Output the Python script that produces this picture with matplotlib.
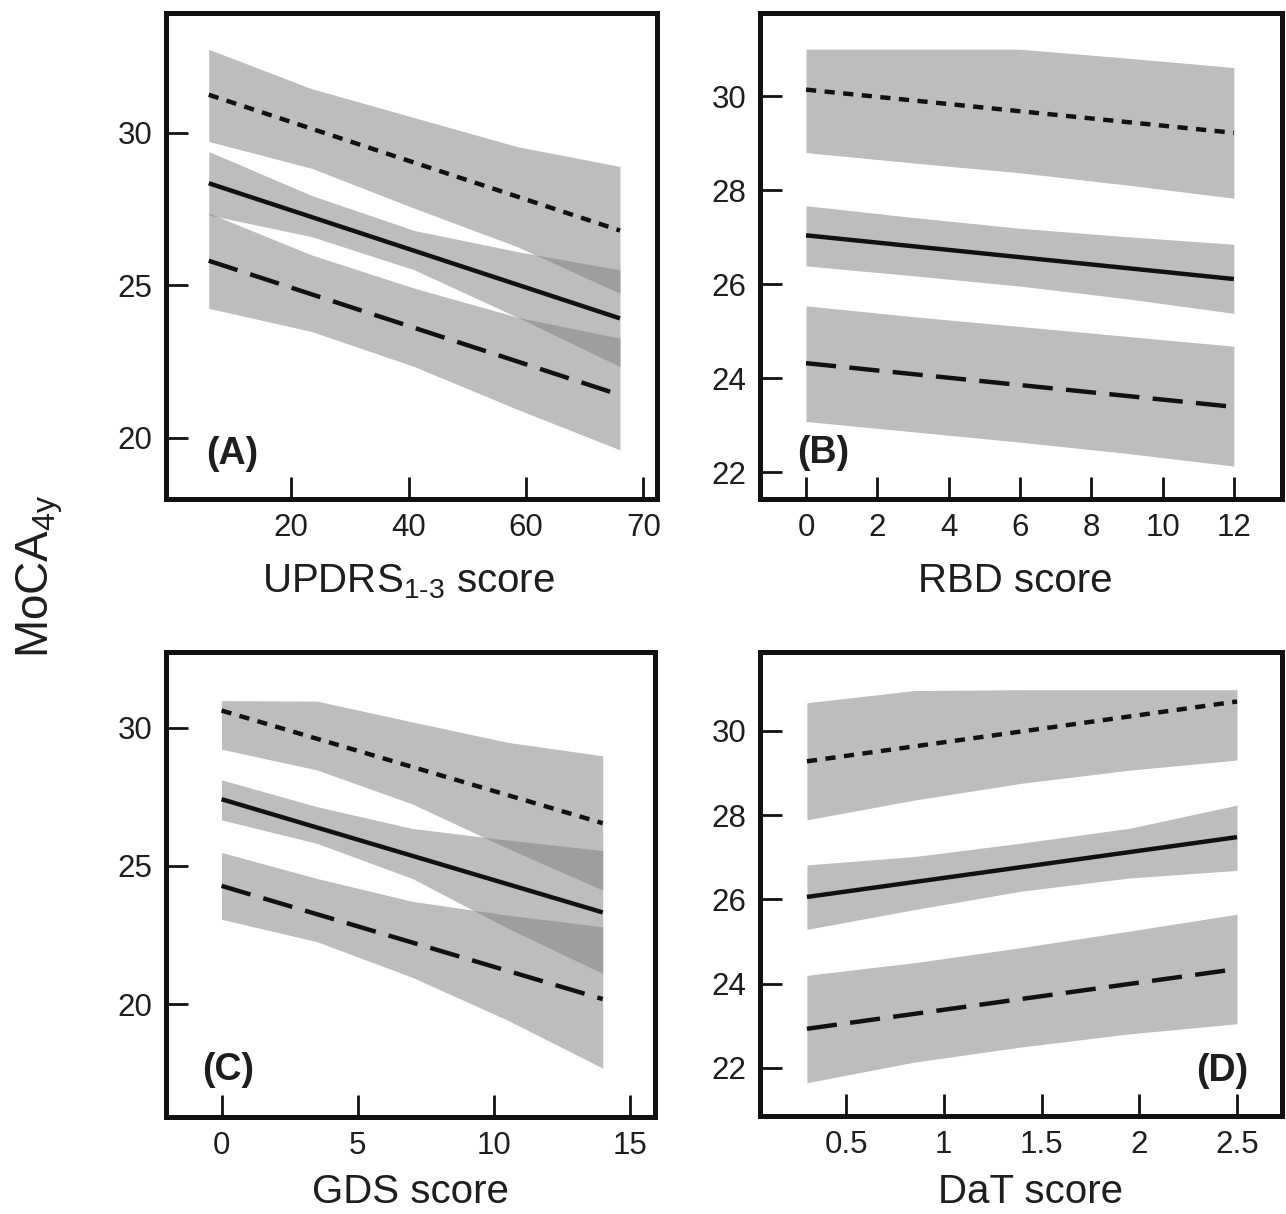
import matplotlib
matplotlib.use("Agg")
import matplotlib.pyplot as plt

plt.rcParams['font.family'] = ['Liberation Sans', 'DejaVu Sans']
plt.rcParams['mathtext.fontset'] = 'custom'
plt.rcParams['mathtext.rm'] = 'Liberation Sans'
plt.rcParams['mathtext.it'] = 'Liberation Sans:italic'
plt.rcParams['mathtext.bf'] = 'Liberation Sans:bold'

# ---------------- data ----------------
# Panel A : UPDRS 1-3 score
a_x = [6, 23.5, 41, 58.5, 76]
a_line_x = [6, 76]
a_dot = [31.25, 26.80]
a_sol = [28.35, 23.92]
a_dash = [25.81, 21.41]
a_dot_up = [32.74, 31.45, 30.50, 29.55, 28.90]
a_dot_lo = [29.72, 28.84, 27.53, 26.27, 24.74]
a_sol_up = [29.39, 27.95, 26.80, 26.11, 25.51]
a_sol_lo = [27.31, 26.60, 25.51, 23.96, 22.34]
a_dash_up = [27.37, 26.00, 24.91, 23.96, 23.27]
a_dash_lo = [24.25, 23.49, 22.34, 20.94, 19.61]
a_xticks = [20, 40, 60, 80]
a_xticklabels = ["20", "40", "60", "70"]
a_yticks = [20, 25, 30]

# Panel B : RBD score
b_x = [0, 3, 6, 9, 12]
b_line_x = [0, 12]
b_dot = [30.14, 29.22]
b_sol = [27.04, 26.11]
b_dash = [24.32, 23.39]
b_dot_up = [31.0, 31.0, 31.0, 30.81, 30.61]
b_dot_lo = [28.80, 28.58, 28.37, 28.11, 27.83]
b_sol_up = [27.67, 27.42, 27.19, 27.01, 26.85]
b_sol_lo = [26.39, 26.18, 25.96, 25.69, 25.38]
b_dash_up = [25.54, 25.31, 25.10, 24.89, 24.68]
b_dash_lo = [23.08, 22.86, 22.64, 22.40, 22.13]
b_xticks = [0, 2, 4, 6, 8, 10, 12]
b_xticklabels = ["0", "2", "4", "6", "8", "10", "12"]
b_yticks = [22, 24, 26, 28, 30]

# Panel C : GDS score
c_x = [0, 3.5, 7, 10.5, 14]
c_line_x = [0, 14]
c_dot = [30.63, 26.55]
c_sol = [27.42, 23.32]
c_dash = [24.28, 20.18]
c_dot_up = [30.99, 30.97, 30.22, 29.48, 28.99]
c_dot_lo = [29.23, 28.48, 27.25, 25.64, 24.13]
c_sol_up = [28.12, 27.15, 26.36, 25.94, 25.56]
c_sol_lo = [26.67, 25.82, 24.55, 22.75, 21.11]
c_dash_up = [25.49, 24.55, 23.72, 23.22, 22.80]
c_dash_lo = [23.07, 22.26, 20.97, 19.42, 17.68]
c_xticks = [0, 5, 10, 15]
c_xticklabels = ["0", "5", "10", "15"]
c_yticks = [20, 25, 30]

# Panel D : DaT score
d_x = [0.3, 0.85, 1.4, 1.95, 2.5]
d_line_x = [0.3, 2.5]
d_dot = [29.28, 30.70]
d_sol = [26.06, 27.48]
d_dash = [22.93, 24.35]
d_dot_up = [30.67, 30.96, 30.98, 30.98, 30.98]
d_dot_lo = [27.89, 28.36, 28.76, 29.07, 29.31]
d_sol_up = [26.82, 27.02, 27.34, 27.69, 28.24]
d_sol_lo = [25.29, 25.76, 26.20, 26.51, 26.69]
d_dash_up = [24.20, 24.50, 24.86, 25.25, 25.65]
d_dash_lo = [21.65, 22.14, 22.50, 22.81, 23.05]
d_xticks = [0.5, 1, 1.5, 2, 2.5]
d_xticklabels = ["0.5", "1", "1.5", "2", "2.5"]
d_yticks = [22, 24, 26, 28, 30]

panel_letters = ["(A)", "(B)", "(C)", "(D)"]
x_labels = ["UPDRS$_{\\mathregular{1\u20103}}$ score", "RBD score", "GDS score", "DaT score"]
y_label = "MoCA$_{\\mathregular{4y}}$"

# ---------------- layout ----------------
W, H = 1286, 1214
fig = plt.figure(figsize=(W / 100, H / 100), dpi=100)


def rect(l, r, t, b):
    return [l / W, 1 - b / H, (r - l) / W, (b - t) / H]


band_color = (130 / 255, 131 / 255, 134 / 255)
band_alpha = 0.53
line_color = "#111111"
text_color = "#1e1e1e"

panels = [
    dict(rect=rect(166, 657, 13, 499), xlim=(-1.28, 82.3), ylim=(18.0, 33.93),
         x=a_x, lx=a_line_x, dot=a_dot, sol=a_sol, dash=a_dash,
         bands=[(a_dot_lo, a_dot_up), (a_sol_lo, a_sol_up), (a_dash_lo, a_dash_up)],
         xt=a_xticks, xtl=a_xticklabels, yt=a_yticks,
         letter_pos=(0.134, 0.092), xlabel_xy=(408, 592)),
    dict(rect=rect(760, 1282, 13, 499), xlim=(-1.29, 13.35), ylim=(21.43, 31.77),
         x=b_x, lx=b_line_x, dot=b_dot, sol=b_sol, dash=b_dash,
         bands=[(b_dot_lo, b_dot_up), (b_sol_lo, b_sol_up), (b_dash_lo, b_dash_up)],
         xt=b_xticks, xtl=b_xticklabels, yt=b_yticks,
         letter_pos=(0.121, 0.095), xlabel_xy=(1015, 592)),
    dict(rect=rect(166, 655, 652, 1117), xlim=(-2.04, 15.92), ylim=(15.91, 32.75),
         x=c_x, lx=c_line_x, dot=c_dot, sol=c_sol, dash=c_dash,
         bands=[(c_dot_lo, c_dot_up), (c_sol_lo, c_sol_up), (c_dash_lo, c_dash_up)],
         xt=c_xticks, xtl=c_xticklabels, yt=c_yticks,
         letter_pos=(0.127, 0.101), xlabel_xy=(410, 1203)),
    dict(rect=rect(760, 1282, 652, 1116), xlim=(0.06, 2.73), ylim=(20.86, 31.875),
         x=d_x, lx=d_line_x, dot=d_dot, sol=d_sol, dash=d_dash,
         bands=[(d_dot_lo, d_dot_up), (d_sol_lo, d_sol_up), (d_dash_lo, d_dash_up)],
         xt=d_xticks, xtl=d_xticklabels, yt=d_yticks,
         letter_pos=(0.885, 0.097), xlabel_xy=(1030, 1203)),
]

for i, p in enumerate(panels):
    ax = fig.add_axes(p["rect"])
    for lo, up in p["bands"]:
        ax.fill_between(p["x"], lo, up, color=band_color, alpha=band_alpha,
                        linewidth=0, zorder=1)
    ax.plot(p["lx"], p["dot"], color=line_color, lw=3.2, dashes=(2.3, 1.9),
            dash_capstyle="butt", zorder=3)
    ax.plot(p["lx"], p["sol"], color=line_color, lw=3.2, zorder=3,
            solid_capstyle="butt")
    ax.plot(p["lx"], p["dash"], color=line_color, lw=3.2, dashes=(6.8, 3.0),
            dash_capstyle="butt", zorder=3)
    ax.set_xlim(*p["xlim"])
    ax.set_ylim(*p["ylim"])
    ax.set_xticks(p["xt"])
    ax.set_xticklabels(p["xtl"])
    ax.set_yticks(p["yt"])
    ax.tick_params(axis="both", direction="in", length=16, width=2.0,
                   labelsize=22.5, color="#111111", labelcolor=text_color)
    ax.tick_params(axis="x", pad=10)
    ax.tick_params(axis="y", pad=10)
    for s in ax.spines.values():
        s.set_linewidth(3.6)
        s.set_color("#111111")
    ax.text(p["letter_pos"][0], p["letter_pos"][1], panel_letters[i],
            transform=ax.transAxes, ha="center", va="center",
            fontsize=27, fontweight="bold", color=text_color)
    fx, fy = p["xlabel_xy"]
    fig.text(fx / W, 1 - fy / H, x_labels[i], ha="center", va="baseline",
             fontsize=29, color=text_color)

fig.text(40 / W, 1 - 576 / H, y_label, rotation=90, ha="center", va="center",
         fontsize=33, color=text_color)

fig.savefig("out.png", dpi=100, facecolor="white")
